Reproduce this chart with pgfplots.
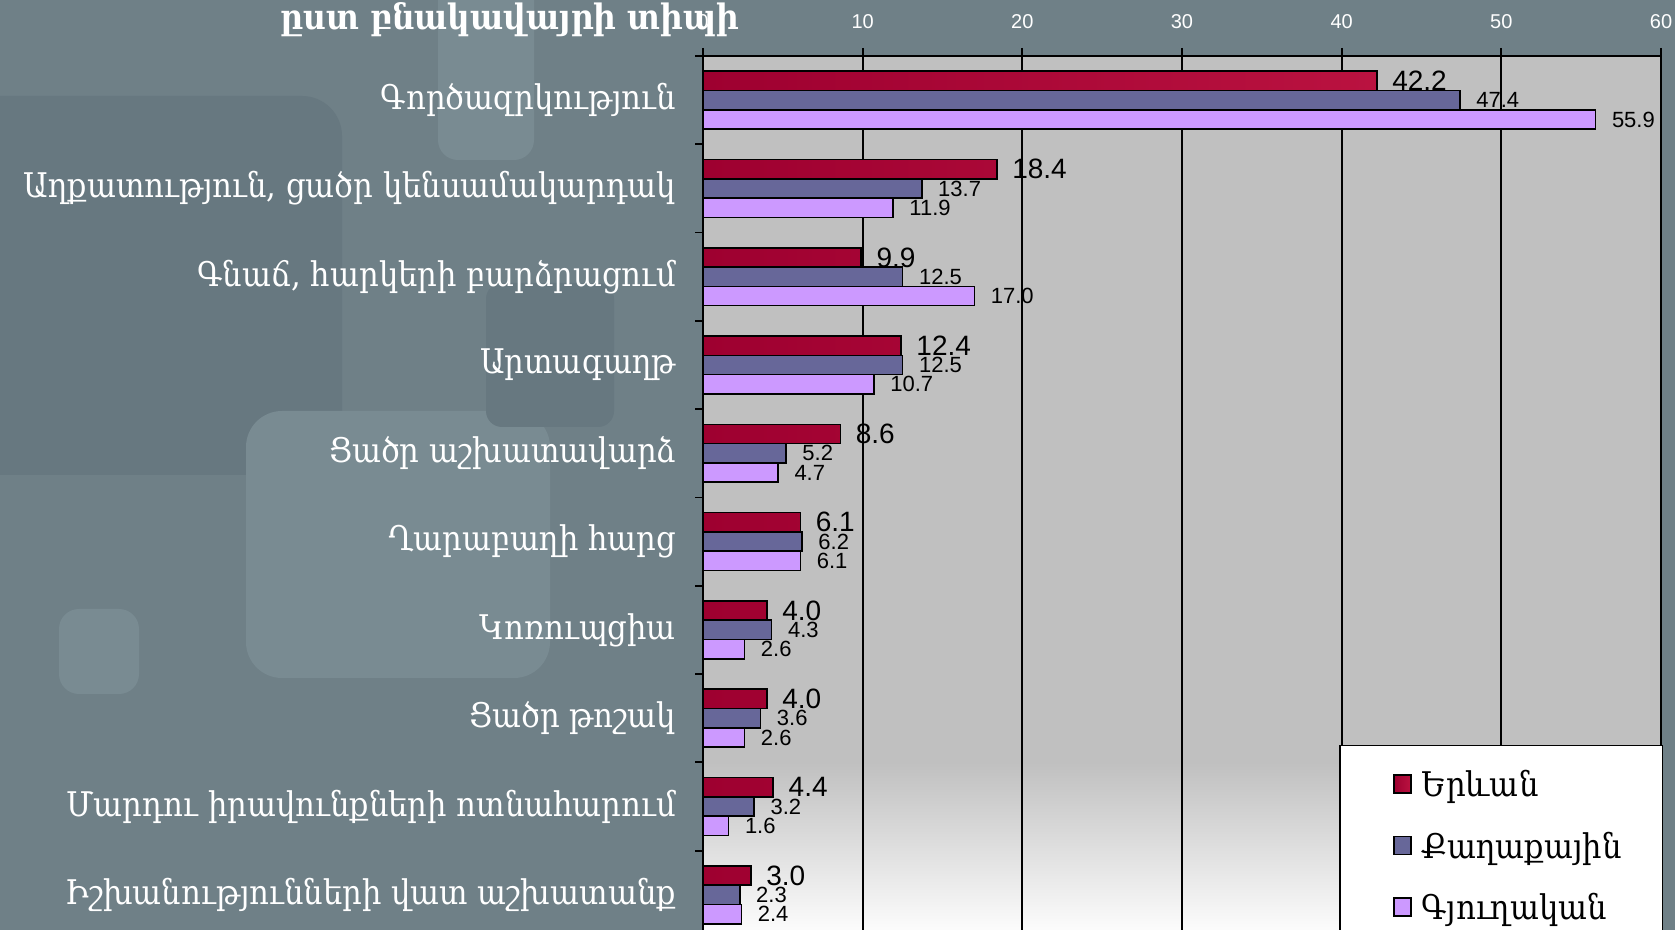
\documentclass[border=0pt]{standalone}
\usepackage{fontspec}
\setmainfont{Liberation Sans}
\newfontfamily\armfont{DejaVu Serif Condensed}
\usepackage{pgfplots}
\pgfplotsset{compat=1.18}

\definecolor{slate}{RGB}{111,128,135}
\definecolor{slatedark}{RGB}{103,120,128}
\definecolor{slatelight}{RGB}{121,139,146}
\definecolor{plotgray}{RGB}{192,192,192}
\definecolor{yerA}{RGB}{158,0,48}
\definecolor{yerB}{RGB}{186,18,64}
\definecolor{city}{RGB}{103,103,153}
\definecolor{village}{RGB}{204,153,255}

% path is mapped to 25bp..75bp of the shading
\pgfdeclareverticalshading{plotbg}{100bp}{color(0bp)=(white); color(25bp)=(white); color(35bp)=(plotgray); color(100bp)=(plotgray)}

\begin{document}
\begin{tikzpicture}
\useasboundingbox (0pt,0pt) rectangle (837.5pt,465pt);
\clip (0pt,0pt) rectangle (837.5pt,465pt);
\fill[slate] (0pt,0pt) rectangle (837.5pt,465pt);
% faint background shapes
\begin{scope}[x=0.5pt,y=0.5pt]
\fill[slatedark, rounded corners=20pt] (-40,455) rectangle (342,834);
\fill[slatelight, rounded corners=18pt] (246,252) rectangle (550,519);
\fill[slatelight, rounded corners=10pt] (59,236) rectangle (139,321);
\fill[slatelight, rounded corners=10pt] (438,770) rectangle (534,960);
\fill[slatedark, rounded corners=8pt] (486,503) rectangle (614,647);
\end{scope}

\begin{axis}[
  at={(351.5pt,437pt)}, anchor=north west,
  scale only axis, width=479pt, height=441.5pt,
  xbar=0pt, bar width=9.65pt,
  xmin=0, xmax=60, ymin=-0.5, ymax=9.5,
  axis x line*=top, axis y line*=left,
  axis line style={black, line width=0.9pt},
  axis background/.style={shading=plotbg},
  xtick={0,10,...,60},
  xmajorgrids, grid style={black, line width=0.9pt},
  tick align=outside, major tick length=4pt,
  tick style={black, line width=0.9pt},
  xticklabel style={font=\fontsize{10}{11}\selectfont, text=white, yshift=6pt},
  /pgf/number format/assume math mode=true,
  ytick={-0.5,0.5,...,9.5}, yticklabels={},
  extra y ticks={0,1,...,9},
  extra y tick style={major tick length=0pt},
  extra y tick labels={Իշխանությունների վատ աշխատանք, Մարդու իրավունքների ոտնահարում, Ցածր թոշակ, Կոռուպցիա, Ղարաբաղի հարց, Ցածր աշխատավարձ, Արտագաղթ, {Գնաճ, հարկերի բարձրացում}, {Աղքատություն, ցածր կենսամակարդակ}, Գործազրկություն},
  yticklabel style={font=\armfont\fontsize{17}{19}\selectfont, text=white, xshift=-10pt},
  point meta=x,
  nodes near coords={\pgfmathprintnumber[fixed,fixed zerofill,precision=1]{\pgfplotspointmeta}},
  every node near coord/.append style={anchor=west, text=black, xshift=4.5pt, yshift=0pt, font=\fontsize{11}{12}\selectfont},
  legend style={at={(0.664,0.22)}, anchor=north west, draw=black, line width=0.8pt, fill=white,
    font=\armfont\fontsize{17}{19}\selectfont, text=black, row sep=12pt,
    inner ysep=10.5pt, inner xsep=0pt},
  legend cell align=left,
  legend image code/.code={\path (0pt,0pt) (38pt,0pt); \draw[#1, line width=0.8pt] (26.5pt,-4pt) rectangle (35pt,5pt);},
]
\addplot[draw=black, line width=0.8pt, left color=yerA, right color=yerB, bar shift=9.65pt,
  every node near coord/.append style={font=\fontsize{14}{15}\selectfont, xshift=-0.5pt}]
  coordinates {(42.2,9) (18.4,8) (9.9,7) (12.4,6) (8.6,5) (6.1,4) (4.0,3) (4.0,2) (4.4,1) (3.0,0)};
\addlegendentry{\makebox[118.5pt][l]{Երևան}}
\addplot[draw=black, line width=0.8pt, fill=city, bar shift=0pt]
  coordinates {(47.4,9) (13.7,8) (12.5,7) (12.5,6) (5.2,5) (6.2,4) (4.3,3) (3.6,2) (3.2,1) (2.3,0)};
\addlegendentry{Քաղաքային}
\addplot[draw=black, line width=0.8pt, fill=village, bar shift=-9.65pt]
  coordinates {(55.9,9) (11.9,8) (17.0,7) (10.7,6) (4.7,5) (6.1,4) (2.6,3) (2.6,2) (1.6,1) (2.4,0)};
\addlegendentry{Գյուղական}
\end{axis}

\node[anchor=base, text=white, font=\armfont\bfseries\fontsize{17.5}{20}\selectfont] at (255pt,450pt) {ըստ բնակավայրի տիպի};
\end{tikzpicture}
\end{document}
